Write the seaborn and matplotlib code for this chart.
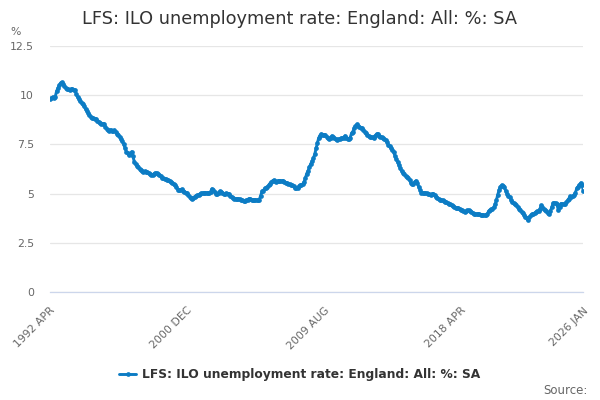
import numpy as np
import pandas as pd
import matplotlib
matplotlib.use("Agg")
import matplotlib.pyplot as plt
import seaborn as sns

# Monthly values, starting 1992 APR
start_month = "1992-04-01"
rate = [
    # 1992 (Apr-Dec)
    9.81, 9.85, 9.90, 9.88, 9.93, 10.20, 10.35, 10.50, 10.62,
    # 1993
    10.65, 10.58, 10.45, 10.38, 10.30, 10.30, 10.25, 10.30, 10.32, 10.28, 10.25, 10.05,
    # 1994
    9.90, 9.80, 9.68, 9.60, 9.55, 9.45, 9.30, 9.20, 9.10, 9.00, 8.90, 8.85,
    # 1995
    8.82, 8.80, 8.78, 8.70, 8.65, 8.60, 8.55, 8.52, 8.55, 8.40, 8.30, 8.25,
    # 1996
    8.20, 8.25, 8.20, 8.18, 8.22, 8.15, 8.05, 7.98, 7.90, 7.75, 7.65, 7.50,
    # 1997
    7.30, 7.13, 7.05, 6.96, 7.00, 7.13, 6.90, 6.62, 6.50, 6.42, 6.35, 6.25,
    # 1998
    6.18, 6.14, 6.12, 6.13, 6.10, 6.10, 6.05, 6.00, 5.94, 5.95, 6.00, 6.05,
    # 1999
    6.05, 6.02, 5.95, 5.90, 5.80, 5.77, 5.75, 5.72, 5.71, 5.68, 5.65, 5.60,
    # 2000
    5.55, 5.48, 5.42, 5.35, 5.20, 5.17, 5.20, 5.22, 5.15, 5.10, 5.05, 5.03,
    # 2001
    4.95, 4.85, 4.78, 4.74, 4.80, 4.85, 4.90, 4.91, 4.95, 4.98, 5.03, 5.02,
    # 2002
    5.03, 5.05, 5.03, 5.04, 5.05, 5.10, 5.24, 5.18, 5.10, 5.00, 4.98, 5.05,
    # 2003
    5.12, 5.10, 5.05, 4.97, 5.00, 5.02, 5.00, 4.98, 4.90, 4.83, 4.78, 4.75,
    # 2004
    4.74, 4.73, 4.73, 4.72, 4.70, 4.68, 4.63, 4.63, 4.65, 4.70, 4.74, 4.74,
    # 2005
    4.70, 4.66, 4.68, 4.70, 4.65, 4.66, 4.70, 4.90, 5.12, 5.15, 5.26, 5.30,
    # 2006
    5.35, 5.42, 5.51, 5.58, 5.65, 5.68, 5.62, 5.60, 5.65, 5.66, 5.65, 5.63,
    # 2007
    5.65, 5.60, 5.56, 5.54, 5.50, 5.48, 5.45, 5.42, 5.38, 5.30, 5.26, 5.30,
    # 2008
    5.37, 5.43, 5.45, 5.48, 5.60, 5.80, 6.02, 6.15, 6.36, 6.50, 6.65, 6.79,
    # 2009
    7.00, 7.30, 7.55, 7.81, 7.95, 8.03, 8.00, 7.98, 7.98, 7.90, 7.80, 7.76,
    # 2010
    7.85, 7.93, 7.88, 7.80, 7.75, 7.72, 7.75, 7.78, 7.81, 7.80, 7.85, 7.93,
    # 2011
    7.85, 7.78, 7.76, 7.85, 8.06, 8.15, 8.32, 8.42, 8.52, 8.45, 8.38, 8.32,
    # 2012
    8.32, 8.25, 8.15, 8.08, 8.00, 7.93, 7.88, 7.86, 7.86, 7.85, 7.95, 8.03,
    # 2013
    8.03, 7.95, 7.90, 7.86, 7.80, 7.75, 7.72, 7.60, 7.47, 7.40, 7.30, 7.24,
    # 2014
    7.10, 6.90, 6.75, 6.60, 6.45, 6.30, 6.15, 6.05, 6.00, 5.90, 5.85, 5.80,
    # 2015
    5.70, 5.55, 5.51, 5.50, 5.60, 5.65, 5.55, 5.34, 5.20, 5.05, 5.04, 5.03,
    # 2016
    5.03, 5.02, 5.00, 4.97, 4.95, 4.98, 5.00, 4.92, 4.83, 4.78, 4.72, 4.70,
    # 2017
    4.68, 4.66, 4.62, 4.58, 4.55, 4.50, 4.49, 4.45, 4.40, 4.35, 4.32, 4.28,
    # 2018
    4.28, 4.27, 4.22, 4.18, 4.15, 4.12, 4.06, 4.10, 4.15, 4.15, 4.12, 4.08,
    # 2019
    4.02, 3.98, 3.98, 3.95, 3.96, 3.95, 3.93, 3.92, 3.90, 3.89, 3.89, 3.95,
    # 2020
    4.10, 4.15, 4.20, 4.23, 4.30, 4.45, 4.66, 4.95, 5.17, 5.35, 5.43, 5.40,
    # 2021
    5.34, 5.15, 5.00, 4.90, 4.83, 4.70, 4.57, 4.50, 4.45, 4.40, 4.32, 4.23,
    # 2022
    4.15, 4.08, 4.01, 3.90, 3.81, 3.75, 3.64, 3.80, 3.89, 3.95, 3.98, 4.01,
    # 2023
    4.05, 4.10, 4.12, 4.20, 4.40, 4.30, 4.22, 4.18, 4.10, 4.00, 3.95, 4.10,
    # 2024
    4.30, 4.52, 4.50, 4.52, 4.45, 4.15, 4.30, 4.49, 4.45, 4.48, 4.46, 4.55,
    # 2025
    4.65, 4.75, 4.86, 4.85, 4.88, 4.91, 5.05, 5.26, 5.35, 5.45, 5.54, 5.45,
    # 2026 (Jan)
    5.12,
]

series_name = "LFS: ILO unemployment rate: England: All: %: SA"
y_ticks = [0, 2.5, 5, 7.5, 10, 12.5]
y_tick_labels = ["0", "2.5", "5", "7.5", "10", "12.5"]
tick_step_months = 26
label_every = 4

line_color = "#0c7cc4"
axis_color = "#ccd6eb"
grid_color = "#e6e6e6"
text_grey = "#666666"

df = pd.DataFrame({
    "date": pd.date_range(start_month, periods=len(rate), freq="MS"),
    "rate": rate,
})

sns.set_theme(style="white")
plt.rcParams["font.family"] = ["DejaVu Sans"]

fig = plt.figure(figsize=(6, 4), dpi=100)
ax = fig.add_axes([0.0833, 0.27, 0.889, 0.615])

sns.lineplot(data=df, x="date", y="rate", ax=ax, color=line_color,
             linewidth=2.1, marker="o", markersize=3.4, markeredgewidth=0,
             label=series_name, legend=False)

# x ticks every 26 months, labels on every 4th plus the last month
first = df["date"].iloc[0]
last = df["date"].iloc[-1]
tick_dates = list(pd.date_range(first, last, freq=f"{tick_step_months}MS"))
if tick_dates[-1] != last:
    tick_dates.append(last)
tick_labels = []
for i, d in enumerate(tick_dates):
    if i % label_every == 0 or d == last:
        tick_labels.append(d.strftime("%Y %b").upper())
    else:
        tick_labels.append("")
ax.set_xticks(tick_dates)
ax.set_xticklabels(tick_labels, rotation=45, ha="right", rotation_mode="anchor",
                   fontsize=7.8, color=text_grey)
ax.set_xlim(first, last)

ax.set_yticks(y_ticks)
ax.set_yticklabels(y_tick_labels, fontsize=7.8, color=text_grey)
ax.set_ylim(0, 12.5)

ax.tick_params(axis="x", direction="out", length=6.5, width=0.8, color=axis_color, pad=3)
ax.tick_params(axis="y", length=0, pad=11.5)
for s in ["top", "right", "left"]:
    ax.spines[s].set_visible(False)
ax.spines["bottom"].set_color(axis_color)
ax.spines["bottom"].set_linewidth(0.9)
ax.grid(axis="y", color=grid_color, linewidth=0.9)
ax.grid(axis="x", visible=False)
ax.set_xlabel("")
ax.set_ylabel("")
ax.set_axisbelow(True)

fig.text(0.5, 0.953, series_name, ha="center", va="center", fontsize=12.8, color="#333333")
fig.text(0.017, 0.92, "%", ha="left", va="center", fontsize=7.8, color=text_grey)

handles, labels = ax.get_legend_handles_labels()
fig.legend(handles, labels, loc="center", bbox_to_anchor=(0.5, 0.063), frameon=False,
           prop={"weight": "bold", "size": 8.8}, handlelength=1.4, handletextpad=0.5,
           labelcolor="#333333")
fig.text(0.98, 0.025, "Source:", ha="right", va="center", fontsize=8.5, color=text_grey)

fig.savefig("out.png", dpi=100)
